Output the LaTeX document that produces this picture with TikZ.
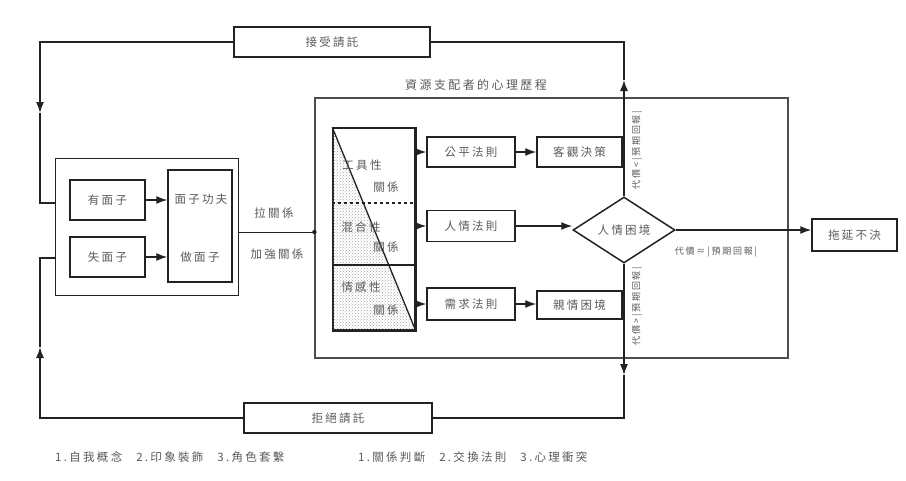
\documentclass[tikz,border=0pt]{standalone}
\usepackage{fontspec}
\setmainfont{Noto Sans CJK TC}[LetterSpace=20]
\usetikzlibrary{arrows.meta,shapes.geometric,patterns}
\definecolor{txt}{HTML}{5a5a5a}
\definecolor{ln}{HTML}{222222}
\tikzset{
  box/.style={draw=ln, line width=1.5pt, rectangle, inner sep=0pt, text=txt, font=\fontsize{11.5}{13}\selectfont},
  lbl/.style={text=txt, inner sep=0pt, font=\fontsize{11.5}{13}\selectfont},
  small/.style={text=txt, inner sep=0pt, font=\fontsize{9}{10}\selectfont},
  conn/.style={draw=ln, line width=1.3pt},
  arr/.style={conn, -{Latex[length=11pt,width=8pt]}},
}
\begin{document}
\begin{tikzpicture}[x=1pt,y=-1pt]
\useasboundingbox (0,0) rectangle (906,480);
% request boxes
\node[box, minimum width=196, minimum height=30] (acc) at (332,42) {接受請託};
\node[box, minimum width=188, minimum height=30] (rej) at (338,418) {拒絕請託};
% face block
\node[draw=ln, line width=1pt, minimum width=183, minimum height=137, inner sep=0pt] (face) at (146.5,226.5) {};
\node[box, minimum width=75, minimum height=40] (you) at (107.5,200) {有面子};
\node[box, minimum width=75, minimum height=40] (shi) at (107.5,257) {失面子};
\node[box, minimum width=64, minimum height=112] (gf) at (200,226) {};
\node[lbl] (gf1) at (201,199) {面子功夫};
\node[lbl] (gf2) at (200,257) {做面子};
\draw[arr] (you.east) -- (gf.west |- you.east);
\draw[arr] (shi.east) -- (gf.west |- shi.east);
% big box
\node[draw=ln!80, line width=1.2pt, minimum width=473, minimum height=260, inner sep=0pt] (big) at (551.5,228) {};
\node[lbl, font=\fontsize{12}{13}\selectfont] (title) at (476,85) {資源支配者的心理歷程};
\coordinate (J) at (big.west |- 0,232);
\draw[conn, line width=1pt] (face.east |- J) -- (J);
\fill[ln] (J) circle (2.2);
\node[lbl] (la) at (274,213) {拉關係};
\node[lbl] (lb) at (277,254) {加強關係};
% relation box
\node[box, minimum width=82, minimum height=202] (rel) at (374,229) {};
\fill[pattern=crosshatch dots, pattern color=black!35] (rel.north west) -- (rel.south east) -- (rel.south west) -- cycle;
\draw[conn] (rel.north west) -- (rel.south east);
\draw[draw=ln, line width=1.2pt, dashed] (rel.west |- 0,203) -- (rel.east |- 0,203);
\draw[draw=ln, line width=1.2pt] (rel.west |- 0,265) -- (rel.east |- 0,265);
\draw[box] (rel.north west) rectangle (rel.south east);
\node[lbl] (r1a) at (362,165) {工具性};
\node[lbl] (r1b) at (386,187) {關係};
\node[lbl] (r2a) at (361,227) {混合性};
\node[lbl] (r2b) at (386,247) {關係};
\node[lbl] (r3a) at (361,287) {情感性};
\node[lbl] (r3b) at (386,310) {關係};
% rules
\node[box, minimum width=88, minimum height=30] (ru1) at (471,152) {公平法則};
\node[box, minimum width=85, minimum height=30] (obj) at (579.5,152) {客觀決策};
\node[box, minimum width=88, minimum height=31] (ru2) at (471,226) {人情法則};
\node[box, minimum width=88, minimum height=32] (ru3) at (471,304) {需求法則};
\node[box, minimum width=85, minimum height=28] (fam) at (579.5,305) {親情困境};
\node[box, diamond, minimum width=102, minimum height=66, aspect=1.6] (dia) at (624,230) {人情困境};
\node[box, minimum width=85, minimum height=32] (drag) at (854.5,235) {拖延不決};
\draw[arr] (rel.east |- ru1.west) -- (ru1.west);
\draw[arr] (rel.east |- ru2.west) -- (ru2.west);
\draw[arr] (rel.east |- ru3.west) -- (ru3.west);
\draw[arr] (ru1.east) -- (obj.west);
\draw[arr] (ru3.east) -- (fam.west |- ru3.east);
\draw[arr] (ru2.east) -- (dia.west |- ru2.east);
\draw[arr] (dia.east) -- (dia.east -| drag.west);
\node[small] (mid) at (716,252) {代價≈|預期回報|};
\node[small, rotate=90] (up) at (637,150) {代價<|預期回報|};
\node[small, rotate=90] (dn) at (637,306) {代價>|預期回報|};
% loops
\coordinate (T1) at (624,80);
\coordinate (T2) at (624,42);
\coordinate (B1) at (624,375);
\coordinate (B2) at (624,418);
\coordinate (L1) at (40,42);
\coordinate (L2) at (40,113);
\coordinate (L3) at (40,203);
\coordinate (L4) at (40,418);
\coordinate (L5) at (40,347);
\coordinate (L6) at (40,258);
\draw[arr] (dia.north) -- (T1);
\draw[conn] (T1) -- (T2) -- (acc.east);
\draw[arr] (acc.west) -- (L1) -- (L2);
\draw[conn] (L2) -- (L3) -- (face.west |- L3);
\draw[arr] (dia.south) -- (B1);
\draw[conn] (B1) -- (B2) -- (rej.east);
\draw[arr] (rej.west) -- (L4) -- (L5);
\draw[conn] (L5) -- (L6) -- (face.west |- L6);
% notes
\node[lbl, anchor=west] (n1) at (55,457) {1.自我概念\hspace{14pt}2.印象裝飾\hspace{14pt}3.角色套繫};
\node[lbl, anchor=west] (n2) at (358,457) {1.關係判斷\hspace{14pt}2.交換法則\hspace{14pt}3.心理衝突};
\end{tikzpicture}
\end{document}
